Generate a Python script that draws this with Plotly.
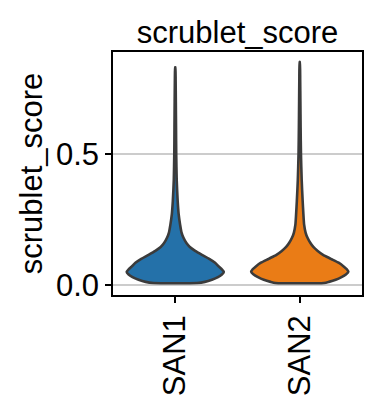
import plotly.graph_objects as go

# ---- data ----
categories = ["SAN1", "SAN2"]
fill_colors = ["#2471a9", "#ea7c16"]

# violin density profiles: score levels and relative density (max = 1)
levels_san1 = [0.008, 0.012, 0.02, 0.03, 0.04, 0.05, 0.06, 0.07, 0.085, 0.1, 0.115, 0.13,
               0.145, 0.16, 0.18, 0.2, 0.23, 0.27, 0.32, 0.4, 0.5, 0.6, 0.7, 0.78, 0.83]
dens_san1 = [0.45, 0.61, 0.755, 0.88, 0.96, 1.0, 0.96, 0.90, 0.82, 0.70, 0.55, 0.41,
             0.30, 0.23, 0.17, 0.13, 0.10, 0.07, 0.05, 0.03, 0.02, 0.016, 0.012, 0.008, 0.002]

levels_san2 = [0.008, 0.012, 0.02, 0.03, 0.04, 0.05, 0.06, 0.07, 0.085, 0.1, 0.115, 0.13,
               0.145, 0.16, 0.18, 0.2, 0.23, 0.27, 0.32, 0.4, 0.5, 0.6, 0.7, 0.78, 0.85]
dens_san2 = [0.50, 0.60, 0.74, 0.86, 0.95, 1.0, 0.97, 0.91, 0.80, 0.64, 0.48, 0.37,
             0.28, 0.22, 0.16, 0.12, 0.09, 0.075, 0.06, 0.04, 0.025, 0.018, 0.013, 0.009, 0.002]

y_tick_vals = [0.0, 0.5]
y_tick_text = ["0.0", "0.5"]

profiles = [(levels_san1, dens_san1), (levels_san2, dens_san2)]

FONT = "Liberation Sans, Arial, sans-serif"
FS = 31
half_width = 0.39

fig = go.Figure()
for i, ((lv, dn), col) in enumerate(zip(profiles, fill_colors)):
    right = [i + half_width * d for d in dn]
    left = [i - half_width * d for d in reversed(dn)]
    xs = right + left + [right[0]]
    ys = list(lv) + list(reversed(lv)) + [lv[0]]
    fig.add_trace(go.Scatter(
        x=xs, y=ys, mode="lines", fill="toself", fillcolor=col,
        line=dict(color="#3b3b3b", width=2.6, shape="spline", smoothing=0.6),
        hoverinfo="skip", showlegend=False,
    ))

fig.update_layout(
    width=378, height=408,
    margin=dict(l=113, r=16, t=52, b=113),
    plot_bgcolor="white", paper_bgcolor="white",
    font=dict(family=FONT, color="black", size=FS),
    title=dict(text="scrublet_score", x=0.5, xref="paper", xanchor="center",
               y=1 - 32 / 408, yref="container", yanchor="middle",
               font=dict(size=FS, family=FONT, color="black")),
)
fig.update_xaxes(
    range=[-0.5, 1.5], tickmode="array", tickvals=[0, 1], ticktext=categories,
    tickangle=-90, ticks="outside", ticklen=6, tickwidth=1.5, tickcolor="black",
    showgrid=False, zeroline=False, showline=True, mirror=True,
    linecolor="black", linewidth=1.5, tickfont=dict(size=FS),
)
fig.update_yaxes(
    range=[-0.038, 0.888], tickmode="array", tickvals=y_tick_vals, ticktext=y_tick_text,
    ticks="outside", ticklen=6, tickwidth=1.5, tickcolor="black",
    showgrid=True, gridcolor="#cccccc", gridwidth=1.5, zeroline=False,
    showline=True, mirror=True, linecolor="black", linewidth=1.5,
    tickfont=dict(size=FS),
    title=dict(text="scrublet_score", font=dict(size=FS), standoff=4),
)

fig.write_html("out.html")
